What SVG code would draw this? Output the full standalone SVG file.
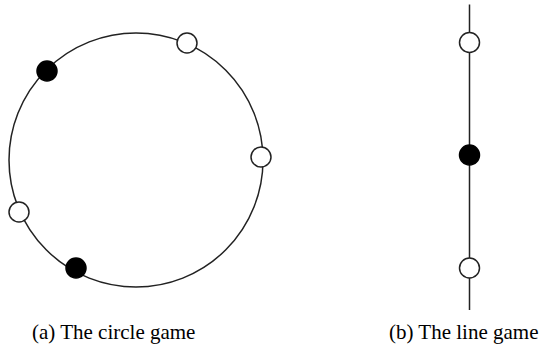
<svg xmlns="http://www.w3.org/2000/svg" width="543" height="351" viewBox="0 0 543 351">
<style>
.ln{fill:none;stroke:#222;stroke-width:1.5}
.w{fill:#fff;stroke:#222;stroke-width:1.5}
.b{fill:#000;stroke:#000;stroke-width:1.5}
.t{font-family:"Liberation Serif",serif;font-size:21px;fill:#000}
</style>
<rect width="543" height="351" fill="#fff"/>
<g id="connectors">
<circle class="ln" cx="136" cy="160" r="127"/>
<line class="ln" x1="469.5" y1="4.5" x2="469.5" y2="310"/>
</g>
<g id="c1"><circle class="w" cx="187" cy="43" r="10"/></g>
<g id="c2"><circle class="b" cx="47" cy="71" r="10"/></g>
<g id="c3"><circle class="w" cx="261" cy="157" r="10"/></g>
<g id="c4"><circle class="w" cx="19" cy="212" r="10"/></g>
<g id="c5"><circle class="b" cx="76" cy="268" r="10"/></g>
<g id="l1"><circle class="w" cx="469.5" cy="42.5" r="10"/></g>
<g id="l2"><circle class="b" cx="469.5" cy="155" r="10"/></g>
<g id="l3"><circle class="w" cx="469.5" cy="268" r="10"/></g>
<text class="t" x="32" y="339">(a) The circle game</text>
<text class="t" x="389" y="339">(b) The line game</text>
</svg>
